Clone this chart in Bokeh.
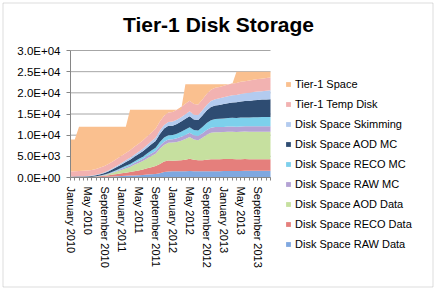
from bokeh.plotting import figure
from bokeh.models import ColumnDataSource, FixedTicker, Legend, LegendItem, Range1d, BoxAnnotation
from bokeh.core.properties import value
from bokeh.transform import stack
from bokeh.embed import file_html
from bokeh.resources import INLINE

# ---- data (monthly, January 2010 .. December 2013) ----
month_index = list(range(48))
tick_labels = ["January 2010", "May 2010", "September 2010", "January 2011", "May 2011",
               "September 2011", "January 2012", "May 2012", "September 2012",
               "January 2013", "May 2013", "September 2013"]
label_months = [0, 4, 8, 12, 16, 20, 24, 28, 32, 36, 40, 44]

y_ticks = [0, 5000, 10000, 15000, 20000, 25000, 30000]
y_tick_labels = ["0.0E+00", "5.0E+03", "1.0E+04", "1.5E+04", "2.0E+04", "2.5E+04", "3.0E+04"]

raw_data = [50, 50, 50, 50, 50, 50, 80, 100, 150, 200, 250, 300, 350, 400, 450, 500, 550, 600,
            700, 750, 800, 1000, 1300, 1400, 1450, 1500, 1500, 1500, 1550, 1500, 1500, 1500, 1500,
            1500, 1500, 1500, 1550, 1550, 1550, 1550, 1550, 1600, 1600, 1600, 1600, 1600, 1600, 1600]
reco_data = [30, 30, 30, 30, 50, 80, 120, 180, 250, 350, 450, 550, 650, 750, 850, 1000, 1100, 1300,
             1500, 1700, 1900, 2200, 2500, 2600, 2500, 2500, 2600, 2700, 2900, 2700, 2600, 2600, 2700,
             2800, 2800, 2800, 2800, 2800, 2800, 2750, 2750, 2750, 2700, 2700, 2700, 2700, 2700, 2700]
aod_data = [20, 20, 20, 20, 20, 20, 40, 80, 150, 250, 400, 600, 800, 1000, 1200, 1500, 1800, 2000,
            2300, 2600, 2900, 3600, 3900, 4200, 4300, 4400, 4600, 4900, 5100, 4800, 4700, 5300, 5900,
            6300, 6400, 6400, 6400, 6450, 6450, 6450, 6500, 6500, 6500, 6500, 6500, 6500, 6500, 6500]
raw_mc = [20, 20, 20, 20, 20, 20, 30, 50, 80, 120, 160, 200, 250, 300, 350, 400, 450, 500,
          550, 600, 650, 700, 750, 800, 800, 850, 900, 950, 1000, 1000, 1000, 1050, 1100,
          1150, 1200, 1200, 1200, 1250, 1250, 1250, 1250, 1250, 1300, 1300, 1300, 1300, 1300, 1300]
reco_mc = [20, 20, 20, 20, 20, 20, 30, 50, 70, 100, 150, 200, 250, 300, 350, 400, 450, 500,
           600, 700, 800, 900, 1000, 1000, 1000, 1100, 1200, 1300, 1300, 1200, 1300, 1500, 1700,
           1800, 1900, 1950, 2000, 2000, 2050, 2050, 2100, 2100, 2100, 2150, 2150, 2200, 2200, 2200]
aod_mc = [50, 70, 90, 110, 140, 180, 230, 300, 380, 480, 600, 700, 800, 900, 1000, 1100, 1200, 1300,
          1400, 1500, 1600, 1900, 2100, 2200, 2200, 2300, 2400, 2500, 2600, 2500, 2500, 2700, 2900,
          3100, 3200, 3300, 3400, 3500, 3600, 3700, 3800, 3850, 3900, 4000, 4050, 4100, 4150, 4200]
skimming = [30, 40, 50, 60, 70, 80, 100, 130, 160, 200, 250, 300, 350, 400, 450, 500, 550, 600,
            650, 700, 750, 800, 850, 900, 950, 1000, 1050, 1100, 1200, 1150, 1150, 1250, 1350,
            1450, 1500, 1550, 1600, 1650, 1700, 1750, 1800, 1850, 1900, 1950, 2000, 2000, 2050, 2100]
temp_disk = [1200, 1220, 1250, 1280, 1300, 1350, 1400, 1450, 1500, 1550, 1600, 1650, 1700, 1750,
             1800, 1850, 1900, 1950, 2000, 2050, 2100, 2150, 2200, 2250, 2300, 2350, 2400, 2450,
             2500, 2500, 2500, 2550, 2600, 2650, 2700, 2700, 2750, 2750, 2800, 2800, 2850, 2850,
             2900, 2900, 2950, 2950, 3000, 3000]
tier1_space = [9000, 9000, 12000, 12000, 12000, 12000, 12000, 12000, 12000, 12000, 12000, 12000,
               12000, 12000, 16000, 16000, 16000, 16000, 16000, 16000, 16000, 16000, 16000, 16000,
               16000, 16000, 16000, 22000, 22000, 22000, 22000, 22000, 22000, 22000, 22000, 22000,
               22000, 22000, 22000, 25000, 25000, 25000, 25000, 25000, 25000, 25000, 25000, 25000]

series_keys = ["raw_data", "reco_data", "aod_data", "raw_mc", "reco_mc", "aod_mc", "skimming", "temp_disk"]
series_names = ["Disk Space RAW Data", "Disk Space RECO Data", "Disk Space AOD Data",
                "Disk Space RAW MC", "Disk Space RECO MC", "Disk Space AOD MC",
                "Disk Space Skimming", "Tier-1 Temp Disk"]
series_colors = ["#7FA8E0", "#E57F7C", "#C6E09F", "#B4A2D4", "#7DD0EC", "#2E4C72", "#B3CBEF", "#F2B2B1"]
space_name = "Tier-1 Space"
space_color = "#FAC08F"
title_text = "Tier-1 Disk Storage"

source = ColumnDataSource(dict(
    x=month_index, raw_data=raw_data, reco_data=reco_data, aod_data=aod_data, raw_mc=raw_mc,
    reco_mc=reco_mc, aod_mc=aod_mc, skimming=skimming, temp_disk=temp_disk, tier1_space=tier1_space))

FONT = "Liberation Sans"

# ---- layout geometry (pixels); the data frame covers the whole canvas ----
W, H = 436, 290
LEFT, TOP = 70, 50            # plot-area top-left
PLOT_W, PLOT_H = 200, 127     # visible plot-area size
x_per_px = (month_index[-1] - month_index[0]) / PLOT_W
y_max = y_ticks[-1]
y_per_px = y_max / PLOT_H


def px_x(px):
    return month_index[0] + (px - LEFT) * x_per_px


def px_y(py):
    return (TOP + PLOT_H - py) * y_per_px


p = figure(width=W, height=H, x_range=Range1d(px_x(0), px_x(W)), y_range=Range1d(px_y(H), px_y(0)),
           output_backend="svg", toolbar_location=None,
           min_border_left=0, min_border_right=0, min_border_top=0, min_border_bottom=0)
p.outline_line_color = None
p.background_fill_color = "white"
p.border_fill_color = "white"
p.xgrid.visible = False
p.ygrid.visible = False

# chart border
p.add_layout(BoxAnnotation(left=px_x(2.5), right=px_x(432.5), top=px_y(2.5), bottom=px_y(286.5),
                           fill_alpha=0, line_color="#8C8C8C", line_width=1))

# horizontal gridlines restricted to the plot area
grid_src = ColumnDataSource(dict(y=y_ticks))
p.segment(x0=month_index[0], x1=month_index[-1], y0="y", y1="y", source=grid_src,
          line_color="#A6A6A6", line_width=1)

stack_renderers = p.varea_stack(series_keys, x="x", color=series_colors, source=source)
space_renderer = p.varea(x="x", y1=stack(*series_keys), y2="tier1_space", color=space_color, source=source)

# title
p.text(x=[px_x(218)], y=[px_y(24)], text=[title_text], text_align="center",
       text_baseline="alphabetic", text_font=value(FONT), text_font_size="21px",
       text_font_style="bold", text_color="black")

# axes (drawn at fixed data locations inside the frame)
p.yaxis.ticker = FixedTicker(ticks=y_ticks, minor_ticks=[])
p.yaxis.major_label_overrides = {t: l for t, l in zip(y_ticks, y_tick_labels)}
p.yaxis.bounds = (0, y_max)
p.yaxis.fixed_location = month_index[0]
p.xaxis.ticker = FixedTicker(ticks=month_index, minor_ticks=[])
overrides = {m: "" for m in month_index}
for m, l in zip(label_months, tick_labels):
    overrides[m] = l
p.xaxis.major_label_overrides = overrides
p.xaxis.major_label_orientation = "vertical"
p.xaxis.bounds = (month_index[0], month_index[-1])
p.xaxis.fixed_location = 0

for ax in (p.xaxis[0], p.yaxis[0]):
    ax.axis_line_color = "#868686"
    ax.major_tick_line_color = "#868686"
    ax.major_tick_in = 0
    ax.minor_tick_line_color = None
    ax.major_label_text_font = FONT
    ax.major_label_text_color = "black"
p.xaxis.major_label_text_font_size = "11px"
p.yaxis.major_label_text_font_size = "11.5px"
p.yaxis.major_tick_out = 4
p.yaxis.major_label_standoff = 6
p.xaxis.major_tick_out = 3
p.xaxis.major_label_standoff = 6

# legend (reverse of stacking order, like the original)
items = [LegendItem(label=space_name, renderers=[space_renderer])]
for name, r in reversed(list(zip(series_names, stack_renderers))):
    items.append(LegendItem(label=name, renderers=[r]))
legend = Legend(items=items, location=(285, 36),
                label_text_font=FONT, label_text_font_size="11px", label_text_color="black",
                glyph_width=6, glyph_height=6, label_standoff=4, spacing=0, label_height=20,
                padding=10, margin=0, border_line_color=None, background_fill_alpha=0)
p.add_layout(legend)

open("out.html", "w").write(file_html(p, INLINE))
